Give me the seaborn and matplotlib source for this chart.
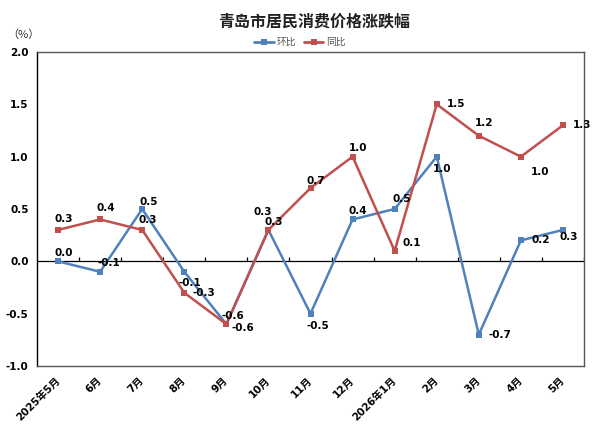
import numpy as np
import pandas as pd
import matplotlib
matplotlib.use("Agg")
import matplotlib.pyplot as plt
import seaborn as sns
from matplotlib.lines import Line2D

months = ["2025年5月", "6月", "7月", "8月", "9月", "10月", "11月", "12月",
          "2026年1月", "2月", "3月", "4月", "5月"]
mom = [0.0, -0.1, 0.5, -0.1, -0.6, 0.3, -0.5, 0.4, 0.5, 1.0, -0.7, 0.2, 0.3]   # 环比
yoy = [0.3, 0.4, 0.3, -0.3, -0.6, 0.3, 0.7, 1.0, 0.1, 1.5, 1.2, 1.0, 1.3]     # 同比
series_names = ["环比", "同比"]
yticks = [-1.0, -0.5, 0.0, 0.5, 1.0, 1.5, 2.0]

# label offsets (points) for value annotations
mom_off = [(4, 6), (6, 6), (5, 5), (4, -8), (5, 6), (4, 6), (5, -9), (4, 6), (5, 7), (4, -9), (15, 0), (14, 0), (4, -5)]
yoy_off = [(4, 8), (4, 8), (4, 7), (14, 0), (12, -3), (-4, 13), (4, 5), (4, 6), (12, 6), (14, 0), (4, 9), (14, -11), (14, 0)]

sns.set_theme(style="white")
plt.rcParams['font.family'] = ['DejaVu Sans', 'Noto Sans CJK SC']

df = pd.DataFrame({
    "x": list(range(len(months))) * 2,
    "value": mom + yoy,
    "series": [series_names[0]] * len(mom) + [series_names[1]] * len(yoy),
})
colors = {"环比": "#4F81BD", "同比": "#C0504D"}

fig = plt.figure(figsize=(6.0, 4.28), dpi=100)
ax = fig.add_axes([37/600, 1-366/428, (584-37)/600, (366-52)/428])

sns.lineplot(data=df, x="x", y="value", hue="series", palette=colors,
             marker="s", markersize=4.5, markeredgewidth=0, linewidth=1.8,
             ax=ax, legend=False, sort=False)

n = len(months)
ax.set_xlim(-0.5, n - 0.5)
ax.set_ylim(-1.0, 2.0)
ax.set_yticks(yticks)
ax.set_yticklabels([f"{v:.1f}" for v in yticks], fontsize=7.5, fontweight='bold', color='black')
ax.set_xticks(range(n))
ax.set_xticklabels(months, rotation=45, ha='right', va='center', rotation_mode='anchor',
                   fontsize=7.5, fontweight='bold', color='black',
                   family=['DejaVu Sans', 'Noto Sans CJK SC'])
ax.tick_params(axis='x', length=0, pad=9)
ax.tick_params(axis='y', length=0, pad=6)
ax.set_xlabel("")
ax.set_ylabel("")

for s in ['top', 'right', 'bottom']:
    ax.spines[s].set_color('#555555')
    ax.spines[s].set_linewidth(1.0)
ax.spines['left'].set_color('black')
ax.spines['left'].set_linewidth(1.0)

# zero line with small ticks at category boundaries
ax.axhline(0, color='black', linewidth=0.9, zorder=1)
ax.vlines(np.arange(n) + 0.5, 0, 0.045, color='black', linewidth=0.9, zorder=1)

for i, v in enumerate(mom):
    ax.annotate(f"{v:.1f}", (i, v), xytext=mom_off[i], textcoords='offset points',
                ha='center', va='center', fontsize=7.5, fontweight='bold', color='black')
for i, v in enumerate(yoy):
    ax.annotate(f"{v:.1f}", (i, v), xytext=yoy_off[i], textcoords='offset points',
                ha='center', va='center', fontsize=7.5, fontweight='bold', color='black')

fig.text(314/600, 1-22/428, "青岛市居民消费价格涨跌幅", ha='center', va='center',
         fontsize=11.5, fontweight='bold', family=['Noto Sans CJK SC'], color='#222222')
fig.text(23/600, 1-35/428, "（%）", ha='center', va='center', fontsize=8,
         family=['Noto Sans CJK SC', 'DejaVu Sans'], color='#333333')

handles = [Line2D([0], [0], color=colors[s], marker='s', markersize=4, markeredgewidth=0, linewidth=2)
           for s in series_names]
leg = fig.legend(handles, series_names, loc='center', bbox_to_anchor=(300/600, 1-42/428),
                 ncol=2, frameon=False, handlelength=2.0, columnspacing=0.8,
                 handletextpad=0.3, prop={'family': ['Noto Sans CJK SC'], 'size': 7})
for t in leg.get_texts():
    t.set_color('#555555')

fig.savefig("out.png", dpi=100)
